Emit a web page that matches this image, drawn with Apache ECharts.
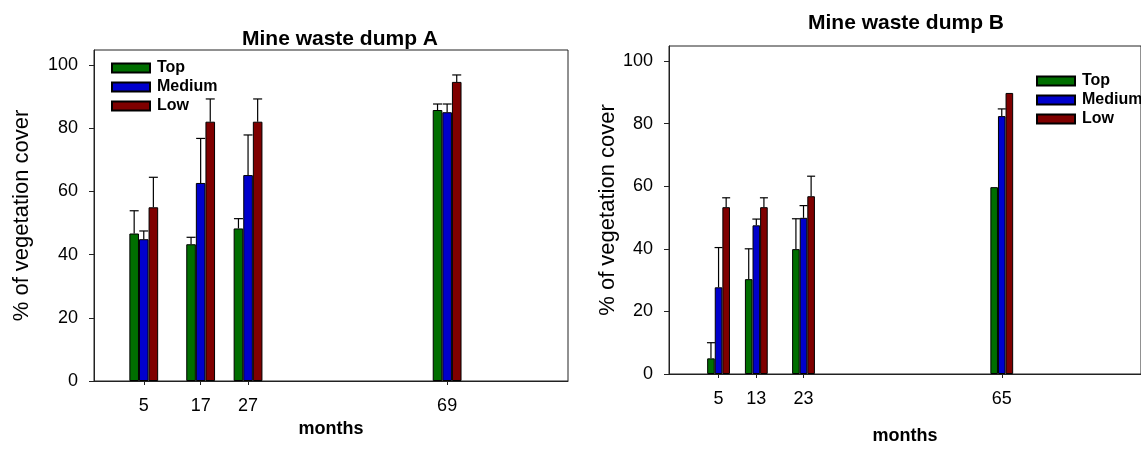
<!DOCTYPE html>
<html>
<head>
<meta charset="utf-8">
<script src="https://cdn.jsdelivr.net/npm/echarts@6/dist/echarts.min.js"></script>
<style>
  html, body { margin: 0; padding: 0; background: #fff; }
  #chart { width: 1141px; height: 450px; }
</style>
</head>
<body>
<div id="chart"></div>
<script>
// dump A
var monthsA = [5, 17, 27, 69];
var topA = [46.7, 43.3, 48.3, 85.8];
var topASe = [7.2, 2.2, 3.1, 1.9];
var medA = [44.9, 62.7, 65.2, 85.1];
var medASe = [2.6, 14.1, 12.7, 2.6];
var lowA = [55.0, 82.1, 82.1, 94.7];
var lowASe = [9.5, 7.2, 7.2, 2.2];

// dump B
var monthsB = [5, 13, 23, 65];
var topB = [5.0, 30.3, 39.9, 59.7];
var topBSe = [5.0, 9.7, 9.7, 0];
var medB = [27.7, 47.5, 49.9, 82.4];
var medBSe = [12.7, 2.0, 3.9, 2.3];
var lowB = [53.3, 53.3, 56.8, 89.8];
var lowBSe = [3.0, 3.0, 6.4, 0];

var yTicks = [0, 20, 40, 60, 80, 100];
var levels = ['Top', 'Medium', 'Low'];
var colors = ['#006e00', '#0000cc', '#7f0000'];
var font = 'Liberation Sans, Arial, sans-serif';

function pairs(xs, ys) {
	var out = [];
	for (var i = 0; i < xs.length; i++) out.push([xs[i], ys[i]]);
	return out;
}
function errData(xs, ys, se) {
	var out = [];
	for (var i = 0; i < xs.length; i++) out.push([xs[i], ys[i], ys[i] + se[i]]);
	return out;
}
// 误差线 只画上半部分
function errRender(offset, capW) {
	return function (params, api) {
		var x = api.value(0), v = api.value(1), e = api.value(2);
		if (!(e > v)) return null;
		var p0 = api.coord([x, v]);
		var p1 = api.coord([x, e]);
		var cx = p0[0] + offset;
		var st = { stroke: '#000', lineWidth: 1.2 };
		return {
			type: 'group',
			children: [
				{ type: 'line', shape: { x1: cx, y1: p0[1], x2: cx, y2: p1[1] }, style: st },
				{ type: 'line', shape: { x1: cx - capW / 2, y1: p1[1], x2: cx + capW / 2, y2: p1[1] }, style: st }
			]
		};
	};
}

function xAxisFor(idx, months, gap) {
	return {
		type: 'value', gridIndex: idx, min: -5.5, max: 94.5,
		name: 'months', nameLocation: 'middle', nameGap: gap,
		nameTextStyle: { fontFamily: font, fontSize: 18, fontWeight: 'bold', color: '#000' },
		axisLine: { show: true, onZero: false, lineStyle: { color: '#222', width: 1 } },
		axisTick: { show: true, customValues: months, length: 4, lineStyle: { color: '#222' } },
		axisLabel: { customValues: months, margin: 16, fontFamily: font, fontSize: 18, color: '#000' },
		splitLine: { show: false }
	};
}
function yAxisFor(idx, gap) {
	return {
		type: 'value', gridIndex: idx, min: 0, max: 104.8,
		name: '% of vegetation cover', nameLocation: 'middle', nameGap: gap,
		nameTextStyle: { fontFamily: font, fontSize: 22, color: '#000' },
		axisLine: { show: true, onZero: false, lineStyle: { color: '#222', width: 1 } },
		axisTick: { show: true, customValues: yTicks, length: 5, lineStyle: { color: '#222' } },
		axisLabel: { customValues: yTicks, margin: 16, fontFamily: font, fontSize: 18, color: '#000' },
		splitLine: { show: false }
	};
}

var dataA = [topA, medA, lowA];
var seA = [topASe, medASe, lowASe];
var dataB = [topB, medB, lowB];
var seB = [topBSe, medBSe, lowBSe];
var barWA = 9.6, barWB = 7.6;

var series = [];
for (var k = 0; k < 3; k++) {
	series.push({
		name: levels[k], type: 'bar', xAxisIndex: 0, yAxisIndex: 0,
		barWidth: barWA, barGap: '0%',
		itemStyle: { color: colors[k], borderColor: '#000', borderWidth: 1 },
		data: pairs(monthsA, dataA[k])
	});
	series.push({
		name: levels[k], type: 'bar', xAxisIndex: 1, yAxisIndex: 1,
		barWidth: barWB, barGap: '0%',
		itemStyle: { color: colors[k], borderColor: '#000', borderWidth: 1 },
		data: pairs(monthsB, dataB[k])
	});
}
for (var k = 0; k < 3; k++) {
	series.push({
		type: 'custom', xAxisIndex: 0, yAxisIndex: 0, z: 1,
		renderItem: errRender((k - 1) * barWA, 9),
		data: errData(monthsA, dataA[k], seA[k])
	});
	series.push({
		type: 'custom', xAxisIndex: 1, yAxisIndex: 1, z: 1,
		renderItem: errRender((k - 1) * barWB, 8),
		data: errData(monthsB, dataB[k], seB[k])
	});
}

var legendStyle = {
	orient: 'vertical', itemWidth: 38, itemHeight: 9, itemGap: 3,
	icon: 'rect', data: levels,
	textStyle: { fontFamily: font, fontSize: 16, fontWeight: 'bold', color: '#000', padding: [0, 0, 0, 2] }
};

var chart = echarts.init(document.getElementById('chart'));
chart.setOption({
	backgroundColor: '#fff',
	animation: false,
	title: [
		{ text: 'Mine waste dump A', left: 335, top: 24, textAlign: 'center',
		  textStyle: { fontFamily: font, fontSize: 21, fontWeight: 'bold', color: '#000' } },
		{ text: 'Mine waste dump B', left: 901, top: 8, textAlign: 'center',
		  textStyle: { fontFamily: font, fontSize: 21, fontWeight: 'bold', color: '#000' } }
	],
	legend: [
		Object.assign({ left: 106, top: 55 }, legendStyle),
		Object.assign({ left: 1031, top: 68 }, legendStyle)
	],
	grid: [
		{ left: 94, top: 50, width: 474, height: 331, show: true, borderColor: '#222', borderWidth: 1 },
		{ left: 669, top: 46, width: 474, height: 331, show: true, borderColor: '#222', borderWidth: 1 }
	],
	xAxis: [xAxisFor(0, monthsA, 35), xAxisFor(1, monthsB, 53)],
	yAxis: [yAxisFor(0, 61), yAxisFor(1, 49)],
	series: series
});
</script>
</body>
</html>
